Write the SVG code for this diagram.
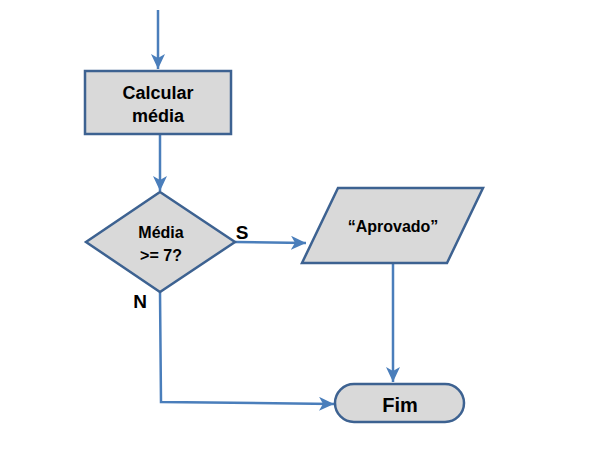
<svg xmlns="http://www.w3.org/2000/svg" width="593" height="449" viewBox="0 0 593 449">
<style>
.node{fill:#d9d9d9;stroke:#3d6291;stroke-width:2.5}
.conn{fill:none;stroke:#4a7ebb;stroke-width:2.5}
text{font-family:"Liberation Sans",Arial,sans-serif;font-weight:bold;fill:#000;text-anchor:middle}
</style>
<defs>
<marker id="arr" markerUnits="userSpaceOnUse" markerWidth="16" markerHeight="14" viewBox="0 0 16 14" refX="15" refY="7" orient="auto">
<path d="M0,0 L15,7 L0,14 L4,7 Z" fill="#4a7ebb"/>
</marker>
</defs>
<g id="connectors">
<path class="conn" d="M158,10 L158,69" marker-end="url(#arr)"/>
<path class="conn" d="M160,134 L160,191" marker-end="url(#arr)"/>
<path class="conn" d="M235,242 L306,243" marker-end="url(#arr)"/>
<path class="conn" d="M393,263 L393,382" marker-end="url(#arr)"/>
<path class="conn" d="M160,292 L161,402 L334,404" marker-end="url(#arr)"/>
</g>
<g id="calcular">
<rect class="node" x="85" y="71" width="146" height="63"/>
<text x="158" y="99" font-size="18">Calcular</text>
<text x="158" y="122" font-size="18">média</text>
</g>
<g id="decisao">
<polygon class="node" points="160,192 235,242 160,292 86,242"/>
<text x="161" y="238" font-size="16">Média</text>
<text x="161" y="261" font-size="16">&gt;= 7?</text>
</g>
<g id="labels">
<text x="242" y="239" font-size="19">S</text>
<text x="140" y="308" font-size="19">N</text>
</g>
<g id="aprovado">
<polygon class="node" points="338,188 483,188 447,263 302,263"/>
<text x="393" y="232" font-size="16">“Aprovado”</text>
</g>
<g id="fim">
<rect class="node" x="335" y="384" width="129" height="38" rx="19"/>
<text x="400" y="412" font-size="20">Fim</text>
</g>
</svg>
